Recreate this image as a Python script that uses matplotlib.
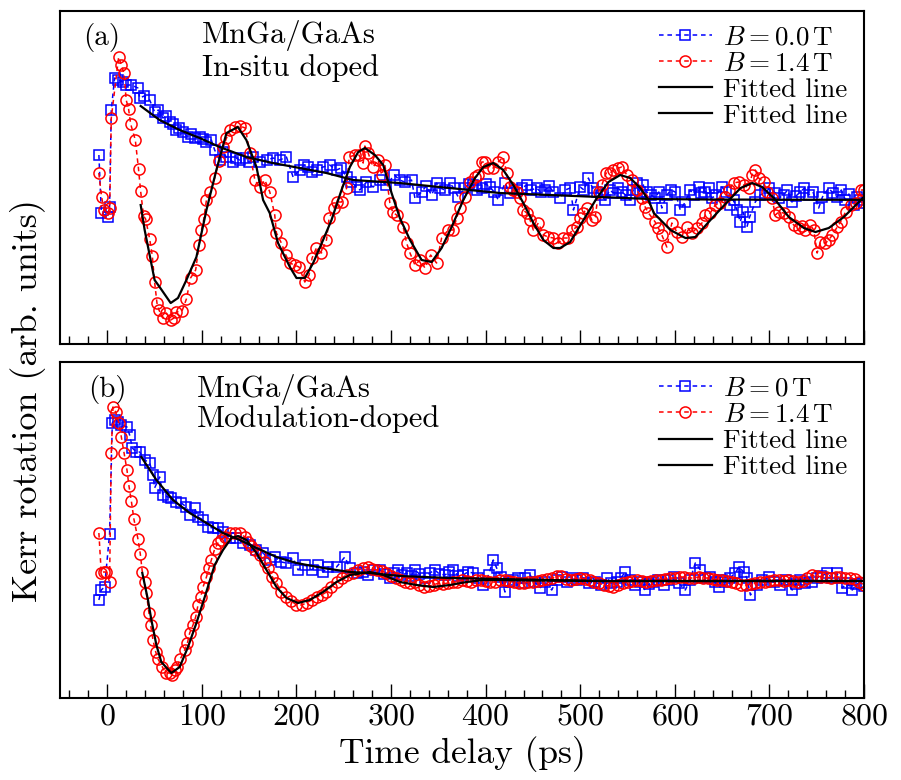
import numpy as np
import matplotlib
matplotlib.use('Agg')
import matplotlib.pyplot as plt
from matplotlib.ticker import MultipleLocator

plt.rcParams['font.family'] = 'serif'
plt.rcParams['font.serif'] = ['cmr10']
plt.rcParams['mathtext.fontset'] = 'cm'
plt.rcParams['axes.formatter.use_mathtext'] = True

# ---- panel (a): In-situ doped ----
t_a_b0 = [-8.9, -6.3, 0.6, 2.4, 4.2, 7.7, 11.2, 16.5, 20.1, 25.4, 32.4, 34.2, 39, 44.8, 50, 54, 58.8, 62, 65.9, 69,
          73, 76, 80, 85.3, 88, 92.4, 97.7, 101, 104.8, 110, 113.5, 118.8, 122, 125.9, 132.9, 136, 140, 147.1, 150, 154.1,
          161.2, 168.3, 175.2, 182.3, 189.4, 196.4, 203.5, 208, 212.3, 216, 221.2, 228.1, 235.2, 242.3, 247, 252.9, 258, 263.5, 267, 274,
          281, 288, 295, 303.5, 309, 314.5, 321.6, 325.2, 332.3, 337, 342.9, 348.1, 352, 357, 362.2, 366, 371, 378, 382, 386.8,
          391, 395.8, 400, 404.5, 409, 413.3, 420.4, 425.7, 432.8, 438, 443.4, 448, 454, 458, 462.8, 467, 471.6, 478.7, 484, 489.3,
          492.8, 499.9, 504, 508.6, 513, 517.5, 522, 526.3, 531, 535.1, 540, 543.9, 548, 552.6, 556, 559.8, 563, 566.8, 570.4, 575,
          579.2, 583, 586.2, 591.5, 596, 600.4, 605.7, 611, 616.3, 620, 625, 628, 632.1, 636, 639.2, 644, 649.7, 654, 658.5, 662,
          665.6, 669.1, 672, 676.2, 679, 685, 690, 695.6, 700, 706.2, 710, 715, 719, 723.8, 728, 732.6, 737, 741.4, 746, 752,
          756, 762.6, 767, 771.4, 776, 780.3, 784, 789.1, 793, 796.2, 800]
v_a_b0 = [4.5, -1.3, -1.7, -0.7, 9.0, 12.2, 12.0, 11.8, 11.5, 11.5, 11.2, 10.2, 10.4, 10.0, 8.8, 9.0, 8.2, 8.4, 7.8, 7.6,
          7.0, 7.2, 6.8, 6.3, 6.6, 6.2, 6.3, 6.1, 5.8, 6.0, 5.0, 4.0, 4.8, 4.3, 3.8, 4.2, 4.0, 4.2, 3.8, 4.3,
          3.8, 4.0, 4.2, 4.0, 4.3, 2.3, 3.0, 3.5, 3.3, 2.8, 3.0, 3.3, 3.5, 3.0, 3.2, 2.3, 1.8, 1.3, 1.0, 1.8,
          1.3, 2.0, 1.5, 2.5, 2.0, 1.8, 2.0, 0.2, 0.8, 1.4, 0.5, 1.7, 1.2, 1.0, 1.7, 1.2, 0.3, 1.2, 1.6, 1.5,
          1.0, 1.2, 1.6, 1.3, 0.8, 0.0, 1.7, 0.7, 1.0, 1.2, 1.5, 1.0, 1.2, 0.8, 1.0, 1.4, 0.8, 0.2, 1.0, 1.2,
          -1.0, 1.3, 1.0, 2.2, 1.2, 0.8, 0.5, 0.0, 1.0, 0.7, 1.2, 0.8, 0.5, 0.0, 1.0, 1.7, 0.8, 1.5, 0.8, 0.5,
          0.2, 0.8, -0.8, 0.5, 1.0, 0.8, -1.0, -0.2, 1.0, 0.5, 1.3, 0.7, 0.8, 1.2, 0.2, 0.5, 1.3, 0.8, -0.5, 0.0,
          -1.0, -2.2, -1.2, -2.7, -1.7, -0.2, 0.5, 0.7, 1.2, 0.7, 0.2, 0.5, 1.0, -0.2, 0.4, 0.8, 1.2, 0.5, 0.8, -0.8,
          0.3, 1.2, 0.7, 0.3, 1.0, 0.0, 0.6, -0.5, 0.3, 0.0, -0.3]

t_a_b14 = [-9, -6, -3.5, 0.5, 2.5, 4.2, 12, 14.8, 17.6, 20, 22.5, 24.7, 29.6, 33, 35.2, 38.4, 40.5, 44.8, 47.6, 50,
           52.5, 54.6, 58.8, 62.4, 67, 70.5, 73, 79, 83.6, 88, 93.4, 97, 99.5, 102, 104.8, 109, 113.5, 118, 122.3, 126,
           129.4, 134.7, 140, 146, 150.6, 156, 161, 166.5, 171.8, 177, 178.8, 184, 188.7, 193, 198, 202.7, 208.8, 213.3, 216.5, 221,
           226.4, 231.7, 234.5, 239.5, 243, 247.6, 253, 255.7, 261.7, 266, 270.5, 272.3, 275.8, 281, 286.4, 290, 293.5, 298.7, 301.6, 305.8,
           312.8, 316.4, 320, 325.2, 330.5, 335.8, 341.8, 348.1, 353.4, 360.4, 365.7, 369.3, 372.8, 378.1, 383.4, 388.7, 392.2, 395.8, 399.3, 402.8,
           408, 413.3, 418.6, 422.2, 425.7, 429.3, 432.8, 436, 439.8, 443.4, 446.9, 450.4, 455.7, 461, 466.3, 471.6, 476.9, 482.2, 487.5, 491.1,
           496.4, 499.9, 503.4, 507, 512.3, 515.8, 519.3, 522.8, 527.3, 531.6, 535.1, 540.4, 543.9, 549.2, 554.5, 559.8, 565.1, 568.6, 572.1, 579.2,
           582.5, 586.2, 591.5, 596.8, 602.1, 607.4, 612.7, 618, 623.3, 628.6, 632.1, 637.4, 642.6, 647.9, 653.2, 656.7, 662, 667.3, 672.6, 677.9,
           681.5, 685, 688.5, 693.8, 697.4, 702.6, 706.2, 709.7, 715, 720.3, 725.6, 730.9, 734.5, 738, 743.3, 746.8, 750.4, 753.9, 759.2, 762.8,
           766.3, 771.6, 775.1, 780.4, 785.7, 791, 796.3, 799.8]
v_a_b14 = [2.7, 0.3, -1.0, -1.3, -0.8, 8.2, 14.3, 13.5, 12.7, 10.0, 9.1, 7.6, 6.0, 3.1, 0.9, -1.6, -1.9, -3.9, -5.6, -8.2,
           -10.3, -11.0, -11.8, -11.3, -12.0, -11.8, -11.2, -11.1, -9.9, -7.8, -7.0, -4.5, -3.0, -1.9, 0.0, 0.8, 2.2, 3.9, 5.3, 6.2,
           7.0, 7.3, 7.4, 7.2, 4.7, 2.0, 1.3, 2.0, 0.8, -1.5, -3.3, -4.3, -5.5, -6.3, -6.5, -6.7, -8.2, -7.5, -5.8, -4.8,
           -5.3, -4.0, -1.8, -0.8, -0.2, -0.2, 1.2, 4.3, 4.5, 4.5, 3.7, 5.4, 4.7, 3.3, 4.0, 2.5, 3.5, -0.3, -1.2, -1.5,
           -2.7, -4.3, -5.3, -6.5, -6.0, -6.8, -5.5, -6.3, -3.8, -3.0, -3.0, -1.8, -0.8, 0.3, 1.8, 2.3, 2.5, 3.8, 3.8, 3.2,
           3.2, 3.8, 4.3, 2.7, 1.3, 1.0, 0.8, 0.2, -1.0, -1.3, -2.0, -3.0, -2.3, -3.5, -3.7, -3.8, -4.3, -3.8, -3.8, -3.0,
           -2.7, -1.8, -1.3, -0.8, -2.0, -1.7, 0.8, 1.5, 2.7, 2.7, 3.0, 3.2, 3.3, 2.5, 2.0, 1.0, 0.2, -0.7, -1.3, -2.2,
           -2.8, -3.5, -4.7, -2.3, -3.2, -3.7, -2.7, -3.3, -2.8, -2.3, -1.5, -1.3, -0.5, -0.3, 0.3, 1.0, 1.7, 1.8, 1.5, 1.2,
           2.5, 3.0, 2.2, 1.8, 0.8, 0.2, -1.5, -1.2, -1.3, -1.7, -2.5, -2.8, -2.6, -3.0, -2.5, -3.0, -5.3, -4.2, -4.3, -4.0,
           -3.5, -2.7, -2.2, -1.2, -0.5, -0.3, 1.0, 1.0]

t_a_fit0 = [35.3, 55.3, 76.5, 97.7, 118.8, 147, 175, 203.5, 231.7, 260, 309, 362, 415, 468, 521, 574, 640, 720, 800]
v_a_fit0 = [9.4, 8.0, 7.0, 6.2, 5.3, 4.3, 3.7, 3.2, 2.7, 2.0, 1.7, 1.2, 0.7, 0.5, 0.3, 0.1, 0.05, 0.03, 0.02]

t_a_fit14 = [35.3, 39.5, 50, 55.3, 67, 74.7, 83.6, 94.2, 104.8, 115.3, 126, 138, 147, 157.7, 164.7, 171.7, 180.5, 193, 200, 208.8,
             217.6, 228.1, 237, 247.6, 256.4, 265.2, 272.3, 282.9, 291.7, 300.5, 309.3, 320, 332.3, 342.9, 353.4, 364, 376.3, 388.7, 397.5, 408,
             418.6, 429.2, 439.8, 450.4, 461, 471.6, 478.7, 489.3, 503.4, 517.5, 529.8, 542.2, 552.8, 563.4, 572.1, 577.7, 595.3, 611.2, 621.7, 637.6,
             655.3, 669.5, 681.8, 692.3, 704.6, 720.5, 736.4, 748.6, 762.7, 778.6, 789.2, 799.8]
v_a_fit14 = [-0.5, -3.0, -8.0, -8.7, -10.3, -9.8, -8.0, -5.7, -1.0, 3.0, 6.7, 7.3, 6.0, 3.3, 0.0, -1.3, -4.3, -6.7, -7.8, -7.8,
             -6.3, -4.0, -2.0, 1.0, 3.3, 4.8, 5.2, 4.5, 3.5, 0.7, -1.8, -4.0, -6.0, -6.2, -4.8, -2.7, 0.0, 2.2, 3.3, 3.7,
             3.0, 1.5, -0.3, -2.3, -4.0, -4.8, -4.8, -4.2, -2.0, 0.2, 1.8, 2.5, 2.2, 1.2, 0.0, -1.3, -3.0, -3.8, -3.7, -2.0,
             -0.2, 1.2, 1.7, 1.3, 0.2, -1.7, -2.8, -3.2, -2.8, -1.7, -0.7, 0.3]

# ---- panel (b): Modulation-doped ----
t_b_b0 = [-8.9, -6.4, -2.9, 2.4, 5.3, 7.7, 11.2, 14.8, 20.8, 23.6, 26.5, 30.7, 34.2, 39.5, 44.8, 48.3, 50, 55.3, 58.8, 64.1,
          67.7, 73, 78.3, 83.6, 87.1, 92.4, 95.9, 101.2, 106.5, 111.7, 117, 122.3, 129.4, 136.5, 143.5, 150.6, 157.7, 164.7, 171.8, 177.1,
          184.1, 189.4, 196.4, 201.7, 208.8, 215.9, 222.9, 228.1, 233.4, 242.3, 251.1, 256.4, 263.5, 270.5, 275.8, 282, 288.2, 293, 298.8, 303,
          307.5, 312, 316.4, 321, 325.2, 330, 335.8, 341, 346.3, 351, 357, 361, 365.7, 371, 376.3, 381, 386.9, 392, 397.5, 403,
          408, 411.6, 416, 420.4, 425, 429.2, 434, 438, 442, 446.9, 452, 457.4, 463, 469.8, 475, 480.4, 486, 491, 497, 503.4,
          509, 515.8, 522, 528, 533, 538.6, 543, 547.4, 553, 558, 563, 568.6, 573, 577.4, 582, 588, 593, 598.6, 604, 611,
          616, 621.6, 627, 632, 637.5, 642, 646.3, 650, 653.4, 658, 664, 667.5, 672.8, 676, 679.9, 686.9, 692, 699.2, 705, 711.6,
          717, 724, 728, 732.8, 738, 745.2, 750, 755, 761, 766, 771.6, 776.9, 782, 787.5, 792, 796.3, 800]
v_b_b0 = [-1.9, -0.9, -0.6, 4.7, 15.8, 16.1, 15.9, 15.6, 15.4, 14.6, 13.3, 12.9, 12.9, 12.1, 11.8, 10.6, 9.3, 10.4, 8.6, 8.4,
          8.3, 7.9, 7.8, 7.4, 6.6, 7.3, 6.4, 6.1, 5.4, 5.3, 5.3, 4.9, 4.3, 4.3, 3.8, 3.6, 3.1, 2.8, 2.1, 2.4,
          1.9, 1.8, 2.3, 1.1, 1.6, 1.1, 1.6, 0.9, 1.4, 1.4, 2.4, 1.3, 0.8, 0.9, 0.6, 1.1, 1.1, 0.7, 0.3, 0.8,
          1.1, 0.6, 0.8, 0.5, 1.1, 0.7, 0.3, 0.8, 1.1, 0.7, 0.6, 0.9, 1.1, 0.5, 0.6, 0.9, 0.8, 0.3, -0.4, 0.6,
          2.1, 1.3, 0.4, -1.1, -0.1, 0.1, 0.3, -0.2, 0.3, 0.6, -0.1, -0.7, -0.1, -0.9, 0.1, 0.4, -0.1, 0.3, 0.1, 0.3,
          -0.2, -0.1, -0.4, 0.3, -0.2, -0.1, 0.3, 0.9, 0.1, -0.4, -0.1, -0.9, -0.3, -0.1, 0.1, -0.4, 0.1, 0.4, -0.2, -0.9,
          0.1, 1.8, 1.1, 0.3, 0.4, -0.1, -0.6, 0.1, -0.1, 0.3, 0.8, 1.4, 0.9, 0.3, -1.4, -0.4, 0.1, 0.4, -0.1, -0.4,
          0.1, -0.9, -0.3, 0.1, -0.2, -0.1, 0.3, 0.5, 0.8, 0.3, 0.8, -0.7, -0.2, -0.9, -0.3, -0.2, -0.5]

t_b_b14 = [-8.9, -6.4, -3.9, -1.1, 2.4, 4.2, 6, 8.8, 12.3, 14.8, 17.6, 20.8, 22.9, 25.4, 28.1, 32.4, 34.9, 37, 39.5, 41.3,
           44, 45.8, 48.3, 51.2, 53.6, 58.2, 61.7, 65.9, 68.5, 71.2, 73.7, 77.2, 81.8, 84.7, 87.1, 90.6, 93.4, 95.9, 98.7, 101.2,
           104.8, 107.5, 110, 113.5, 117, 120.6, 124.1, 129.4, 134.7, 140, 145.3, 148.8, 152.4, 155.9, 161.2, 166.5, 170, 174.6, 178.8, 184.1,
           189.4, 194.7, 200, 205.3, 210.6, 215.9, 221.2, 226.5, 231.7, 237, 242.3, 247.6, 252.9, 259.9, 265.2, 270.5, 275.8, 280, 285, 290,
           295, 300, 305, 310, 315, 320, 325, 330, 335, 340, 345, 350, 355, 360, 365, 370, 375, 380, 385, 390,
           395, 400, 405, 410, 415, 420, 425, 430, 435, 440, 445, 450, 455, 460, 465, 470, 475, 480, 485, 490,
           495, 500, 505, 510, 515, 520, 525, 530, 535, 540, 545, 550, 555, 560, 565, 570, 575, 580, 585, 590,
           595, 600, 605, 610, 615, 620, 625, 630, 635, 640, 645, 650, 655, 660, 665, 670, 675, 680, 685, 690,
           695, 700, 705, 710, 715, 720, 725, 730, 735, 740, 745, 750, 755, 760, 765, 770, 775, 780, 785, 790,
           795, 800]
v_b_b14 = [4.8, 0.8, 0.9, 0.9, -0.1, 12.8, 17.4, 16.9, 15.8, 14.4, 12.8, 11.1, 9.5, 8.0, 6.2, 4.2, 2.7, 0.9, -0.1, -1.2,
           -3.2, -4.4, -5.9, -7.1, -7.8, -8.6, -9.2, -9.2, -9.4, -8.9, -8.6, -7.8, -6.9, -6.2, -5.2, -4.4, -3.6, -2.4, -1.6, -0.6,
           0.4, 1.3, 2.1, 3.2, 3.8, 4.1, 4.4, 4.8, 4.8, 4.8, 4.4, 3.9, 3.5, 3.1, 2.6, 1.9, 1.3, 0.4, -0.2, -1.1,
           -1.6, -2.0, -2.4, -2.4, -2.2, -1.9, -1.6, -1.4, -1.1, -0.6, -0.1, 0.3, 0.6, 0.8, 1.1, 1.3, 1.4, 1.2, 1.1, 1.0,
           0.8, 0.5, 0.3, 0.1, -0.1, -0.2, -0.1, -0.4, -0.6, -0.5, -0.4, -0.2, -0.3, -0.2, -0.1, -0.1, 0.1, 0.0, -0.1, 0.1,
           0.1, 0.0, -0.1, -0.1, 0.1, 0.1, 0.0, -0.1, -0.2, -0.2, -0.1, -0.1, 0.0, 0.1, 0.2, 0.3, 0.5, 0.5, 0.2, 0.1,
           0.2, 0.3, 0.2, 0.1, -0.1, -0.2, -0.4, -0.5, -0.6, -0.4, -0.2, -0.1, 0.0, 0.1, 0.0, -0.1, 0.0, 0.1, 0.1, 0.2,
           0.3, 0.3, 0.4, 0.4, 0.3, 0.3, 0.4, 0.3, 0.3, 0.2, 0.1, 0.1, 0.0, -0.1, -0.2, -0.4, -0.4, -0.3, -0.2, -0.1,
           -0.1, 0.0, 0.1, 0.1, 0.0, 0.1, 0.0, -0.1, 0.0, 0.3, 0.6, 0.5, 0.4, 0.4, 0.3, 0.4, 0.4, 0.3, 0.3, 0.2,
           -0.1, -0.4]

t_b_fit0 = [36, 51.9, 69.4, 87.1, 104.8, 122.3, 140, 157.7, 178.8, 200, 228.1, 256.4, 277.6, 309, 362, 415, 521, 650, 800]
v_b_fit0 = [12.4, 10.1, 8.1, 6.8, 5.8, 4.8, 4.1, 3.3, 2.4, 1.8, 1.3, 0.9, 0.8, 0.5, 0.3, 0.2, 0.0, 0.0, 0.0]

t_b_fit14 = [37, 43, 46.6, 51.9, 57.1, 67.7, 76.5, 85.3, 94.2, 103, 113.5, 122.3, 131.2, 138.2, 147.1, 157.7, 168.3, 178.8, 189.4, 201.7,
             214, 228.1, 242.3, 256.4, 270.5, 277.6, 291.7, 309.3, 327, 344.5, 362.2, 379.8, 397.5, 415, 450, 521, 800]
v_b_fit14 = [0.8, -1.9, -3.9, -6.4, -8.1, -9.2, -8.6, -6.6, -4.2, -1.6, 1.6, 3.1, 4.3, 4.5, 4.1, 2.8, 1.1, -0.6, -1.7, -2.2,
             -1.9, -1.1, -0.1, 0.6, 0.8, 0.9, 0.6, -0.1, -0.4, -0.6, -0.4, -0.1, 0.1, 0.1, 0.05, 0.0, 0.0]

labels_a = [r'$B=0.0\,\mathrm{T}$', r'$B=1.4\,\mathrm{T}$', 'Fitted line', 'Fitted line']
labels_b = [r'$B=0\,\mathrm{T}$', r'$B=1.4\,\mathrm{T}$', 'Fitted line', 'Fitted line']

fig = plt.figure(figsize=(9.01, 7.80), dpi=100)
ax_a = fig.add_axes([0.0666, 0.5596, 0.8924, 0.4269])
ax_b = fig.add_axes([0.0666, 0.1055, 0.8924, 0.4308])


def draw(ax, tb0, vb0, tb14, vb14, tf0, vf0, tf14, vf14, labels):
    ax.plot(tb0, vb0, ls='--', dashes=(3, 2.5), lw=1.1, color='#0000ff', marker='s', ms=7.5,
            mfc='none', mec='#0000ff', mew=1.1, label=labels[0])
    ax.plot(tb14, vb14, ls='--', dashes=(3, 2.5), lw=1.1, color='#ff0000', marker='o', ms=8,
            mfc='none', mec='#ff0000', mew=1.1, label=labels[1])
    ax.plot(tf0, vf0, color='black', lw=1.6, label=labels[2])
    ax.plot(tf14, vf14, color='black', lw=1.6, label=labels[3])
    ax.set_xlim(-50, 800)
    ax.xaxis.set_major_locator(MultipleLocator(100))
    ax.xaxis.set_minor_locator(MultipleLocator(20))
    ax.tick_params(axis='x', which='major', direction='in', length=10, width=1.0, labelsize=23, pad=4)
    ax.tick_params(axis='x', which='minor', direction='in', length=5.5, width=1.0)
    ax.set_yticks([])
    for s in ax.spines.values():
        s.set_linewidth(1.5)
    leg = ax.legend(loc='upper left', bbox_to_anchor=(0.745, 0.955), frameon=False, fontsize=19.5,
                    handlelength=1.95, handletextpad=0.4, labelspacing=0.08, borderpad=0, borderaxespad=0)
    return leg


draw(ax_a, t_a_b0, v_a_b0, t_a_b14, v_a_b14, t_a_fit0, v_a_fit0, t_a_fit14, v_a_fit14, labels_a)
ax_a.set_ylim(-14.35, 18.95)
ax_a.tick_params(axis='x', labelbottom=False)
ax_a.text(0.029, 0.896, '(a)', transform=ax_a.transAxes, fontsize=21)
ax_a.text(0.177, 0.9015, 'MnGa/GaAs', transform=ax_a.transAxes, fontsize=22)
ax_a.text(0.177, 0.803, 'In-situ doped', transform=ax_a.transAxes, fontsize=22)

draw(ax_b, t_b_b0, v_b_b0, t_b_b14, v_b_b14, t_b_fit0, v_b_fit0, t_b_fit14, v_b_fit14, labels_b)
ax_b.set_ylim(-11.67, 21.93)
ax_b.text(0.035, 0.896, '(b)', transform=ax_b.transAxes, fontsize=21)
ax_b.text(0.170, 0.896, 'MnGa/GaAs', transform=ax_b.transAxes, fontsize=22)
ax_b.text(0.170, 0.807, 'Modulation-doped', transform=ax_b.transAxes, fontsize=22)
ax_b.set_xlabel('Time delay (ps)', fontsize=25.5, labelpad=4)

fig.text(0.031, 0.487, 'Kerr rotation (arb. units)', rotation=90, ha='center', va='center', fontsize=26)

fig.savefig('out.png', dpi=100)
